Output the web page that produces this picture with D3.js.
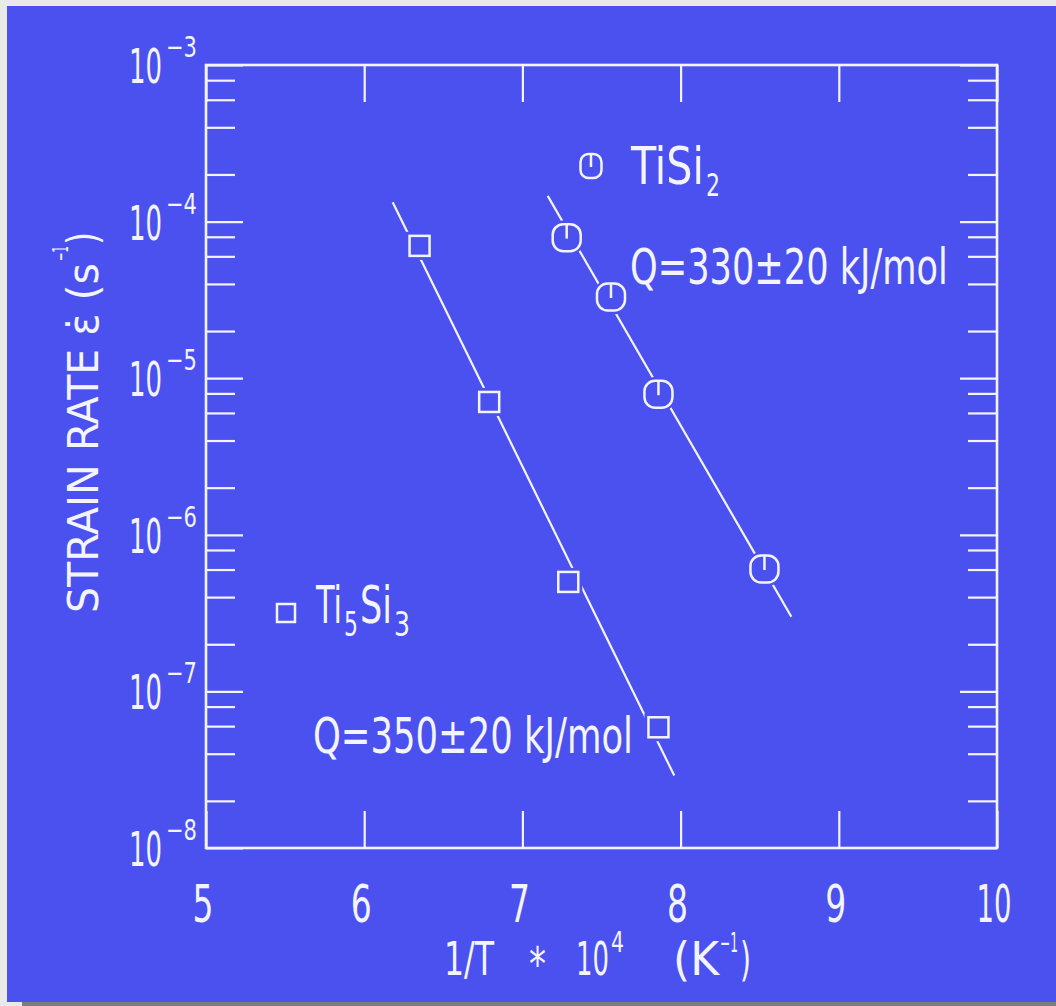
<!DOCTYPE html>
<html>
<head>
<meta charset="utf-8">
<script src="https://cdn.jsdelivr.net/npm/d3@7"></script>
<style>
  html, body { margin: 0; padding: 0; background: #e9e9e9; }
  svg { display: block; }
  text { font-family: "DejaVu Sans Condensed", "DejaVu Sans", sans-serif; fill: #f4f4ff; }
</style>
</head>
<body>
<script>
// Creep data: strain rate vs reciprocal temperature for two titanium silicides
const ti5si3X = [6.35, 6.79, 7.29, 7.86];
const ti5si3Y = [7.0e-5, 7.05e-6, 5.0e-7, 5.9e-8];
const tisi2X = [7.28, 7.56, 7.86, 8.53];
const tisi2Y = [7.9e-5, 3.3e-5, 7.9e-6, 6.05e-7];

// Arrhenius fit lines (end points)
const ti5si3FitX = [6.18, 7.96];
const ti5si3FitY = [1.33e-4, 2.9e-8];
const tisi2FitX = [7.16, 8.70];
const tisi2FitY = [1.46e-4, 3.0e-7];

// Axis ticks
const xTickValues = [5, 6, 7, 8, 9, 10];
const xTickLabels = ["5", "6", "7", "8", "9", "10"];
const yDecades = [-3, -4, -5, -6, -7, -8];
const yMinorMultipliers = [2, 4, 6, 8];

// Annotations
const energyLabels = ["Q=330±20 kJ/mol", "Q=350±20 kJ/mol"];

const W = 1056, H = 1006;
const BG = "#4a51ef";
const INK = "#f4f4ff";
const MINUS = "\u2212";

const svg = d3.select("body").append("svg").attr("width", W).attr("height", H);

// backdrop and scan border
svg.append("rect").attr("x", 0).attr("y", 0).attr("width", W).attr("height", H).attr("fill", "#e9e9e9");
svg.append("rect").attr("x", 7).attr("y", 6).attr("width", W - 7).attr("height", 996).attr("fill", BG);
svg.append("rect").attr("x", 22).attr("y", 1002).attr("width", W - 22).attr("height", 4).attr("fill", "#7c7c7c");

const pLeft = 206, pRight = 997, pTop = 65, pBottom = 848;
const x = d3.scaleLinear().domain([5, 10]).range([pLeft, pRight]);
const y = d3.scaleLog().domain([1e-8, 1e-3]).range([pBottom, pTop]);

// text condensed horizontally to a given width (narrow stencil lettering)
function label(parent, px, py, size, str, width, anchor) {
  const g = parent.append("g");
  const t = g.append("text").attr("font-size", size).text(str);
  const sx = width / t.node().getComputedTextLength();
  const x0 = anchor === "middle" ? px - width / 2 : anchor === "end" ? px - width : px;
  g.attr("transform", `translate(${x0},${py}) scale(${sx},1)`);
  return g;
}

// minor and major y ticks
const yMajor = yDecades.map(d => Math.pow(10, d));
const yMinor = [];
yDecades.slice(1).forEach(d => yMinorMultipliers.forEach(m => yMinor.push(m * Math.pow(10, d))));

function styleAxis(g) {
  g.select(".domain").remove();
  g.selectAll(".tick line").attr("stroke", INK).attr("stroke-width", 2.2);
  g.selectAll(".tick text").remove();
}

svg.append("g").attr("transform", `translate(${pLeft},0)`)
  .call(d3.axisLeft(y).tickValues(yMinor).tickSize(-29)).call(styleAxis);
svg.append("g").attr("transform", `translate(${pLeft},0)`)
  .call(d3.axisLeft(y).tickValues(yMajor).tickSize(-37)).call(styleAxis);
svg.append("g").attr("transform", `translate(${pRight},0)`)
  .call(d3.axisRight(y).tickValues(yMinor).tickSize(-29)).call(styleAxis);
svg.append("g").attr("transform", `translate(${pRight},0)`)
  .call(d3.axisRight(y).tickValues(yMajor).tickSize(-37)).call(styleAxis);
svg.append("g").attr("transform", `translate(0,${pBottom})`)
  .call(d3.axisBottom(x).tickValues(xTickValues).tickSize(-37)).call(styleAxis);
svg.append("g").attr("transform", `translate(0,${pTop})`)
  .call(d3.axisTop(x).tickValues(xTickValues).tickSize(-37)).call(styleAxis);

// frame
svg.append("rect").attr("x", pLeft).attr("y", pTop).attr("width", pRight - pLeft).attr("height", pBottom - pTop)
  .attr("fill", "none").attr("stroke", INK).attr("stroke-width", 2.6);

// y tick labels: 10 with superscript exponent
const yLab = svg.append("g");
yDecades.forEach(d => {
  const ty = y(Math.pow(10, d));
  label(yLab, 129, ty + 18, 48, "10", 33);
  label(yLab, 166, ty - 8, 29, MINUS + Math.abs(d), 31);
});

// x tick labels
const xLab = svg.append("g");
xTickValues.forEach((v, i) => {
  const s = xTickLabels[i];
  label(xLab, x(v) - 3, 922, 51, s, s.length > 1 ? 35 : 21, "middle");
});

// x title: 1/T * 10^4 (K^-1)
const xt = svg.append("g");
label(xt, 444, 975, 47, "1/T", 50);
label(xt, 529, 980, 46, "*", 17);
label(xt, 576, 975, 47, "10", 33);
label(xt, 611, 952, 28, "4", 13);
label(xt, 673, 975, 47, "(K", 46);
label(xt, 720, 952, 26, MINUS + "1", 18);
label(xt, 740, 975, 47, ")", 11);

// y title: STRAIN RATE ε̇ (s^-1)
const yt = svg.append("g").attr("transform", "translate(98,613) rotate(-90)");
label(yt, 0, 0, 43, "STRAIN RATE \u03B5\u0307 (s", 350);
label(yt, 352, -30, 22, MINUS + "1", 15);
label(yt, 368, 0, 43, ")", 13);

// fit lines
const line = d3.line().x(d => x(d[0])).y(d => y(d[1]));
[[ti5si3FitX, ti5si3FitY], [tisi2FitX, tisi2FitY]].forEach(([fx, fy]) => {
  svg.append("path").datum(fx.map((v, i) => [v, fy[i]])).attr("d", line)
    .attr("fill", "none").attr("stroke", INK).attr("stroke-width", 2.2);
});

// markers (a background-coloured pad leaves a small gap in the fit line)
function square(g, cx, cy, s) {
  g.append("rect").attr("x", cx - s / 2 - 4).attr("y", cy - s / 2 - 4).attr("width", s + 8).attr("height", s + 8).attr("fill", BG);
  g.append("rect").attr("x", cx - s / 2).attr("y", cy - s / 2).attr("width", s).attr("height", s)
    .attr("fill", "none").attr("stroke", INK).attr("stroke-width", 2.5);
}
function roundMark(g, cx, cy, w, h) {
  g.append("rect").attr("x", cx - w / 2 - 4).attr("y", cy - h / 2 - 4).attr("width", w + 8).attr("height", h + 8)
    .attr("rx", (w + 8) * 0.45).attr("fill", BG);
  g.append("rect").attr("x", cx - w / 2).attr("y", cy - h / 2).attr("width", w).attr("height", h)
    .attr("rx", w * 0.38).attr("fill", "none").attr("stroke", INK).attr("stroke-width", 2.5);
  g.append("line").attr("x1", cx).attr("x2", cx).attr("y1", cy - h / 2).attr("y2", cy + 1)
    .attr("stroke", INK).attr("stroke-width", 2.5);
}
const mk = svg.append("g");
ti5si3X.forEach((v, i) => square(mk, x(v), y(ti5si3Y[i]), 20));
tisi2X.forEach((v, i) => roundMark(mk, x(v), y(tisi2Y[i]), 28, 27));

// legend
const lg = svg.append("g");
roundMark(mk, 591, 166, 21, 24);
label(lg, 631, 184, 51, "TiSi", 73);
label(lg, 706, 196, 32, "2", 14);
square(mk, 286, 613, 18);
label(lg, 316, 623, 51, "Ti", 26);
label(lg, 344, 636, 34, "5", 14);
label(lg, 360, 623, 51, "Si", 32);
label(lg, 394, 636, 34, "3", 16);

// activation energies
label(lg, 630, 284, 50, energyLabels[0], 318);
label(lg, 313, 753, 50, energyLabels[1], 320);
</script>
</body>
</html>
